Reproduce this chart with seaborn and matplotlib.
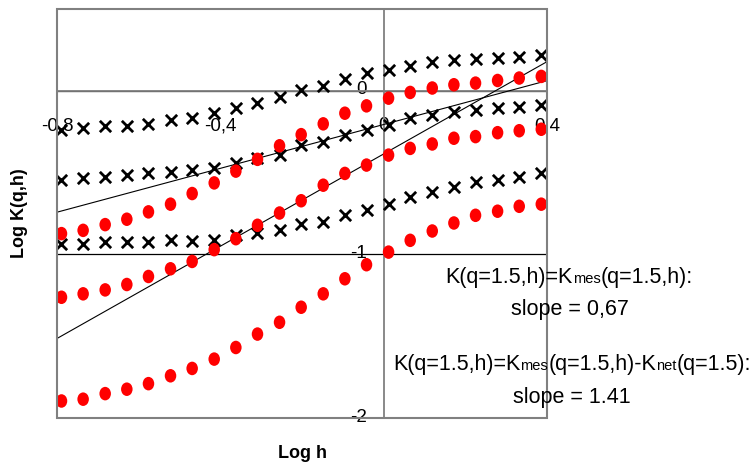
import numpy as np
import pandas as pd
import matplotlib
matplotlib.use("Agg")
import matplotlib.pyplot as plt
from matplotlib.path import Path
from matplotlib.patches import Rectangle
from matplotlib.transforms import ScaledTranslation
import seaborn as sns

# log h values shared by all series
log_h = [-0.789, -0.736, -0.682, -0.629, -0.576, -0.522, -0.469, -0.415,
         -0.362, -0.309, -0.255, -0.202, -0.148, -0.095, -0.042, 0.012,
         0.065, 0.119, 0.172, 0.225, 0.279, 0.332, 0.386]

# measured K (crosses), three q values
kmes_a = [-0.239, -0.225, -0.215, -0.215, -0.202, -0.178, -0.167, -0.133,
          -0.106, -0.072, -0.039, 0.003, 0.031, 0.072, 0.109, 0.129,
          0.149, 0.174, 0.190, 0.194, 0.201, 0.207, 0.221]
kmes_b = [-0.546, -0.532, -0.526, -0.515, -0.501, -0.495, -0.485, -0.474,
          -0.443, -0.413, -0.393, -0.331, -0.311, -0.270, -0.239, -0.209,
          -0.167, -0.147, -0.127, -0.117, -0.106, -0.096, -0.086]
kmes_c = [-0.934, -0.934, -0.925, -0.925, -0.925, -0.914, -0.918, -0.910,
          -0.883, -0.869, -0.849, -0.816, -0.802, -0.761, -0.730, -0.689,
          -0.648, -0.618, -0.587, -0.556, -0.546, -0.526, -0.505]

# K corrected by Knet (dots)
kcor_a = [-0.873, -0.853, -0.818, -0.785, -0.740, -0.693, -0.628, -0.563,
          -0.491, -0.419, -0.336, -0.268, -0.202, -0.137, -0.092, -0.045,
          -0.010, 0.017, 0.037, 0.047, 0.063, 0.078, 0.088]
kcor_b = [-1.262, -1.241, -1.217, -1.184, -1.135, -1.088, -1.043, -0.971,
          -0.904, -0.822, -0.747, -0.672, -0.577, -0.505, -0.454, -0.393,
          -0.352, -0.325, -0.290, -0.280, -0.256, -0.244, -0.235]
kcor_c = [-1.896, -1.885, -1.851, -1.824, -1.790, -1.742, -1.697, -1.640,
          -1.569, -1.487, -1.415, -1.323, -1.241, -1.149, -1.063, -0.986,
          -0.914, -0.857, -0.808, -0.761, -0.736, -0.706, -0.693]

# fitted lines for q = 1.5
fit_slopes = [0.67, 1.41]
fit_intercepts = [-0.206, -0.386]

x_ticks = [-0.8, -0.4, 0.0, 0.4]
x_tick_labels = ["-0,8", "-0,4", "0", "0,4"]
y_ticks = [0, -1, -2]
y_tick_labels = ["0", "-1", "-2"]

sns.set_style("white")
plt.rcParams["font.family"] = ["Liberation Sans", "DejaVu Sans"]
plt.rcParams["text.color"] = "black"
plt.rcParams["xtick.labelcolor"] = "black"
plt.rcParams["ytick.labelcolor"] = "black"

W, H = 753, 463
fig = plt.figure(figsize=(W / 100, H / 100), dpi=100)
ax = fig.add_axes([57 / W, 1 - 418 / H, 490 / W, 409 / H])
ax.set_xlim(-0.8, 0.4)
ax.set_ylim(-2, 0.5)

# slightly tall oval dot
circ = Path.unit_circle()
oval = Path(circ.vertices * np.array([0.85, 1.0]), circ.codes)

for ys in (kmes_a, kmes_b, kmes_c):
    sns.scatterplot(x=log_h, y=ys, ax=ax, marker="x", color="black",
                    s=66, linewidth=2.0, zorder=4, legend=False)
for ys in (kcor_a, kcor_b, kcor_c):
    sns.scatterplot(x=log_h, y=ys, ax=ax, marker=oval, color="#ff0000",
                    s=95, edgecolor="none", zorder=4, legend=False)

x_ends = np.array([-0.8, 0.4])
for m, b in zip(fit_slopes, fit_intercepts):
    sns.lineplot(x=x_ends, y=m * x_ends + b, ax=ax, color="black",
                 linewidth=0.8, zorder=3)

# axes crossing at the origin
for side in ("top", "right"):
    ax.spines[side].set_visible(False)
ax.spines["left"].set_position(("data", 0))
ax.spines["bottom"].set_position(("data", 0))
for side in ("left", "bottom"):
    ax.spines[side].set_color("#808080")
    ax.spines[side].set_linewidth(1.3)
    ax.spines[side].set_zorder(2)

ax.add_patch(Rectangle((0, 0), 1, 1, transform=ax.transAxes, fill=False,
                       edgecolor="#808080", linewidth=1.5, clip_on=False,
                       zorder=5))

ax.set_yticks(y_ticks)
ax.set_yticklabels(y_tick_labels)
ax.set_xticks(x_ticks)
ax.set_xticklabels(x_tick_labels)
ax.grid(axis="y", color="black", linewidth=0.9, zorder=1)
ax.set_axisbelow(True)
ax.tick_params(axis="x", direction="out", length=4, width=1, color="#808080",
               labelcolor="black", pad=15, labelsize=13.5)
ax.tick_params(axis="y", direction="out", length=4, width=1, color="#808080",
               labelcolor="black", pad=8, labelsize=13.5)

# lift the value labels a little above their tick
lift = ScaledTranslation(0, 3 / 100, fig.dpi_scale_trans)
for lbl in ax.get_yticklabels():
    lbl.set_transform(lbl.get_transform() + lift)

fig.text(303 / W, 1 - 453 / H, "Log h", fontsize=13, fontweight="bold",
         color="black", ha="center", va="center")
fig.text(20 / W, 1 - 213 / H, "Log K(q,h)", fontsize=13, fontweight="bold",
         color="black", rotation=90, ha="center", va="center")


def mixed_text(cx, base_y, parts):
    """Lay out text runs of different sizes on one baseline, centred at cx."""
    r = fig.canvas.get_renderer()
    texts = [fig.text(0, 1 - base_y / H, s, fontsize=fs, ha="left",
                      va="baseline", color="black", zorder=6)
             for s, fs in parts]
    widths = [t.get_window_extent(r).width for t in texts]
    x = cx - sum(widths) / 2
    for t, w in zip(texts, widths):
        t.set_x(x / W)
        x += w


big, small = 15.5, 10.5
mixed_text(569, 283, [("K(q=1.5,h)=K", big), ("mes", small),
                      ("(q=1.5,h):", big)])
mixed_text(570, 315, [("slope = 0,67", big)])
mixed_text(572, 370, [("K(q=1.5,h)=K", big), ("mes", small),
                      ("(q=1.5,h)-K", big), ("net", small),
                      ("(q=1.5):", big)])
mixed_text(572, 403, [("slope = 1.41", big)])

fig.savefig("out.png", dpi=100)
